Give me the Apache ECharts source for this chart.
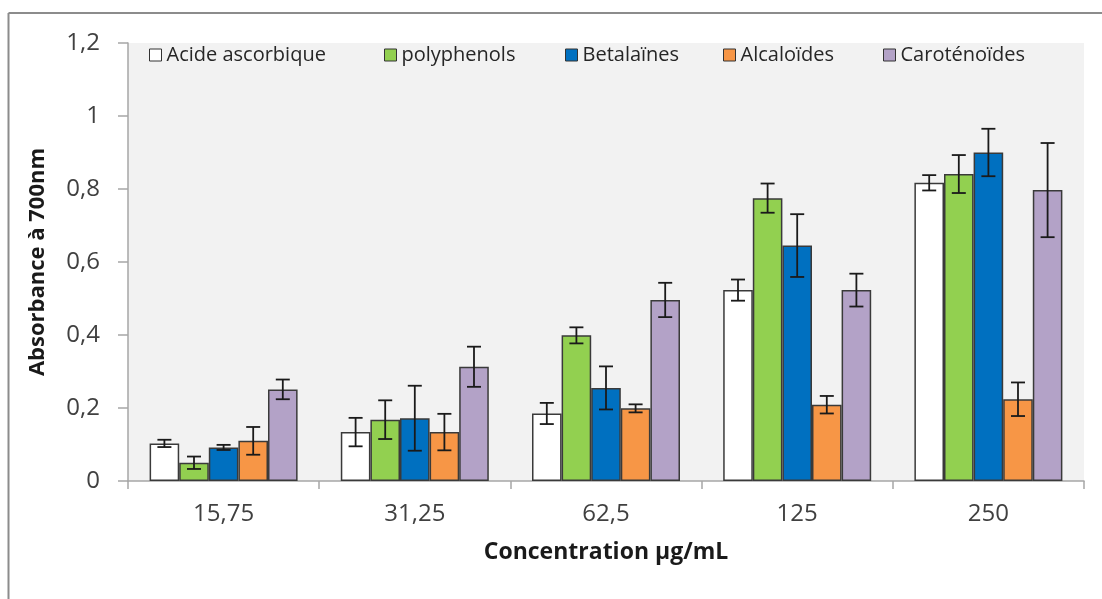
<!DOCTYPE html>
<html>
<head>
<meta charset="utf-8">
<script src="https://cdn.jsdelivr.net/npm/echarts@6/dist/echarts.min.js"></script>
<style>
html,body{margin:0;padding:0;background:#fff;}
#chart{width:1102px;height:599px;}
</style>
</head>
<body>
<div id="chart"></div>
<script>
const categories = ['15,75', '31,25', '62,5', '125', '250'];
const seriesNames = ['Acide ascorbique', 'polyphenols', 'Betalaïnes', 'Alcaloïdes', 'Caroténoïdes'];
const yTickLabels = ['0', '0,2', '0,4', '0,6', '0,8', '1', '1,2'];

const acideAscorbique = [0.103, 0.134, 0.185, 0.523, 0.817];
const acideAscorbiqueErr = [0.010, 0.039, 0.029, 0.029, 0.021];
const polyphenols = [0.050, 0.168, 0.399, 0.775, 0.841];
const polyphenolsErr = [0.017, 0.053, 0.022, 0.040, 0.052];
const betalaines = [0.092, 0.172, 0.255, 0.645, 0.900];
const betalainesErr = [0.007, 0.089, 0.059, 0.086, 0.065];
const alcaloides = [0.110, 0.134, 0.199, 0.209, 0.224];
const alcaloidesErr = [0.038, 0.050, 0.011, 0.024, 0.046];
const carotenoides = [0.251, 0.313, 0.496, 0.523, 0.797];
const carotenoidesErr = [0.027, 0.055, 0.047, 0.045, 0.129];

const colors = ['#ffffff', '#92d050', '#0070c0', '#f79646', '#b3a2c7'];
const values = [acideAscorbique, polyphenols, betalaines, alcaloides, carotenoides];
const errors = [acideAscorbiqueErr, polyphenolsErr, betalainesErr, alcaloidesErr, carotenoidesErr];

const GAP = 0.226;
const legendLeft = [149, 384, 565, 723, 883];

const chart = echarts.init(document.getElementById('chart'), null, {renderer: 'canvas'});

const barSeries = seriesNames.map((name, i) => ({
  name: name,
  type: 'bar',
  data: values[i],
  barGap: '0%',
  barCategoryGap: (GAP * 100) + '%',
  itemStyle: {color: colors[i], borderColor: '#3a3a3a', borderWidth: 1.5},
  emphasis: {disabled: true},
  z: 2
}));

const errData = [];
values.forEach((arr, s) => arr.forEach((v, c) => errData.push([c, v, errors[s][c], s])));

const errSeries = {
  type: 'custom',
  name: 'err',
  data: errData,
  encode: {x: 0, y: 1},
  z: 5,
  silent: true,
  renderItem: function (params, api) {
    const c = api.value(0), v = api.value(1), e = api.value(2), s = api.value(3);
    const band = api.size([1, 0])[0];
    const bw = band * (1 - GAP) / 5;
    const x = api.coord([c, v])[0] + (s - 2) * bw;
    const yt = api.coord([c, v + e])[1];
    const yb = api.coord([c, v - e])[1];
    const hw = 7;
    const st = {stroke: '#1a1a1a', lineWidth: 1.8};
    return {
      type: 'group',
      children: [
        {type: 'line', shape: {x1: x, y1: yt, x2: x, y2: yb}, style: st},
        {type: 'line', shape: {x1: x - hw, y1: yt, x2: x + hw, y2: yt}, style: st},
        {type: 'line', shape: {x1: x - hw, y1: yb, x2: x + hw, y2: yb}, style: st}
      ]
    };
  }
};

const legends = seriesNames.map((name, i) => ({
  data: [{name: name, icon: 'rect'}],
  left: legendLeft[i],
  top: 45,
  padding: 0,
  itemWidth: 12,
  itemHeight: 12,
  itemGap: 6,
  selectedMode: false,
  itemStyle: {borderColor: '#333333', borderWidth: 1},
  textStyle: {fontFamily: 'Open Sans', fontSize: 20, color: '#262626', padding: [0, 0, 0, 0]}
}));

chart.setOption({
  animation: false,
  backgroundColor: '#ffffff',
  color: colors,
  legend: legends,
  grid: {left: 128, right: 18, top: 43, bottom: 118, containLabel: false, show: true, backgroundColor: '#f2f2f2', borderWidth: 0},
  xAxis: {
    type: 'category',
    data: categories,
    name: 'Concentration µg/mL',
    nameLocation: 'middle',
    nameGap: 60,
    nameTextStyle: {fontFamily: 'Open Sans', fontWeight: 'bold', fontSize: 23, color: '#1a1a1a'},
    axisLine: {show: true, lineStyle: {color: '#a6a6a6', width: 1.5}},
    axisTick: {show: true, length: 8, lineStyle: {color: '#a6a6a6', width: 1.5}},
    axisLabel: {fontFamily: 'Open Sans', fontSize: 24, color: '#404040', margin: 21},
    splitLine: {show: false}
  },
  yAxis: {
    type: 'value',
    min: 0,
    max: 1.2,
    interval: 0.2,
    name: 'Absorbance à 700nm',
    nameLocation: 'middle',
    nameGap: 79,
    nameTextStyle: {fontFamily: 'Open Sans', fontWeight: 'bold', fontSize: 22, color: '#1a1a1a'},
    axisLine: {show: true, lineStyle: {color: '#a6a6a6', width: 1.5}},
    axisTick: {show: true, length: 10, lineStyle: {color: '#a6a6a6', width: 1.5}},
    axisLabel: {
      fontFamily: 'Open Sans', fontSize: 24, color: '#404040', margin: 28,
      formatter: function (v) { return yTickLabels[Math.round(v / 0.2)]; }
    },
    splitLine: {show: false}
  },
  graphic: [
    {type: 'line', shape: {x1: 8.5, y1: 13, x2: 1102, y2: 13}, style: {stroke: '#8c8c8c', lineWidth: 2}, silent: true},
    {type: 'line', shape: {x1: 8.5, y1: 13, x2: 8.5, y2: 599}, style: {stroke: '#8c8c8c', lineWidth: 2}, silent: true}
  ],
  series: barSeries.concat([errSeries])
});
</script>
</body>
</html>
